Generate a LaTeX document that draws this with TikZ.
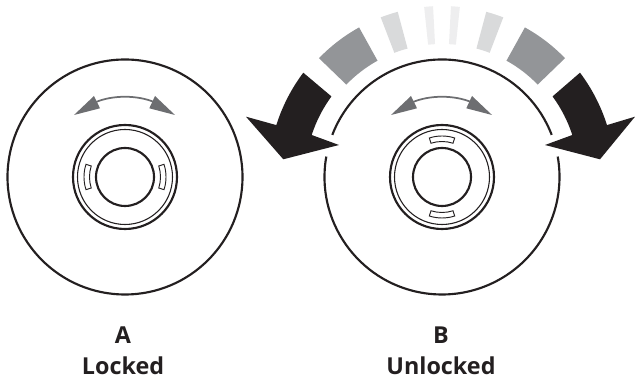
\documentclass[tikz,border=0pt]{standalone}
\usepackage{fontspec}
\setmainfont{Open Sans}
\definecolor{dialink}{HTML}{231F20}
\definecolor{turngrey}{HTML}{6D6E71}
\definecolor{fadeone}{HTML}{939598}
\definecolor{fadetwo}{HTML}{D9DADB}
\definecolor{fadethree}{HTML}{EEEEEF}
\newcommand{\ringseg}[4]{% centre x, start angle, end angle, colour
  \fill[#4] ([shift={(#1,204)}]#2:133) arc[start angle=#2, end angle=#3, radius=133]
    -- ([shift={(#1,204)}]#3:171) arc[start angle=#3, end angle=#2, radius=171] -- cycle;}

\begin{document}
\begin{tikzpicture}[
    x=0.75pt, y=0.75pt,
    thickline/.style={draw=dialink, line width=1.6pt},
    thinline/.style={draw=dialink, line width=0.8pt},
    slotline/.style={draw=dialink, line width=0.7pt},
    turnline/.style={draw=turngrey, line width=1.3pt},
    turnhead/.style={fill=turngrey},
    bigarrow/.style={fill=dialink},
    caption/.style={font=\fontsize{17.5}{24}\selectfont\bfseries, text=dialink, anchor=base, inner sep=0pt}
  ]
    \useasboundingbox (0,0) rectangle (635,381);

    % outer discs
    \coordinate (ca) at (125,204);
    \coordinate (cb) at (442,204);
    \draw[thickline] (ca) circle[radius=117.5];
    \draw[thickline] ([shift={(cb)}]21:117.5) arc[start angle=21, end angle=159, radius=117.5];
    \draw[thickline] ([shift={(cb)}]170:117.5) arc[start angle=170, end angle=370, radius=117.5];

    % dial and turning arrow of each disc
    \foreach \cx/\rot in {125/0, 442/90} {
      \begin{scope}[shift={(\cx,204)}]
        \draw[thickline] (0,0) circle[radius=52];
        \draw[thinline] (0,0) circle[radius=47.5];
        \draw[thickline] (0,0) circle[radius=29];
        \foreach \side in {0,180} {
          \draw[slotline, rotate=\rot+\side] (-18:35.5) arc[start angle=-18, end angle=18, radius=35.5]
            -- (18:41) arc[start angle=18, end angle=-18, radius=41] -- cycle;
        }
        \draw[turnline] (-29,75) .. controls (-12,82) and (12,82) .. (29,75);
        \fill[turnhead] (-51,62) -- (-31,81) -- (-25,68.7) -- cycle;
        \fill[turnhead] (50,62) -- (30,81) -- (24.3,68.7) -- cycle;
      \end{scope}
    }

    % fading segments above disc B
    \foreach \from/\to/\shade in {119/136/fadeone, 44/61/fadeone, 105/111/fadetwo, 69/75/fadetwo,
                                  93/96/fadethree, 84/87/fadethree} {
      \ringseg{442}{\from}{\to}{\shade}
    }

    % big black arrows
    \fill[bigarrow] (303.3,308.3) arc[start angle=143, end angle=162.5, radius=174]
      -- (246,264.3) -- (283.3,221.7) -- (339,236) -- (311.7,246)
      arc[start angle=162, end angle=143.8, radius=137] -- cycle;
    \fill[bigarrow] (580,308.3) arc[start angle=37, end angle=17.5, radius=174]
      -- (635,264.3) -- (600,221.7) -- (545,236) -- (572.3,246)
      arc[start angle=18, end angle=36.2, radius=137] -- cycle;

    \node[caption] (lettera) at (123,37.7) {A};
    \node[caption] (wordlocked) at (123,6) {Locked};
    \node[caption] (letterb) at (441,37.7) {B};
    \node[caption] (wordunlocked) at (441,6) {Unlocked};
\end{tikzpicture}
\end{document}
